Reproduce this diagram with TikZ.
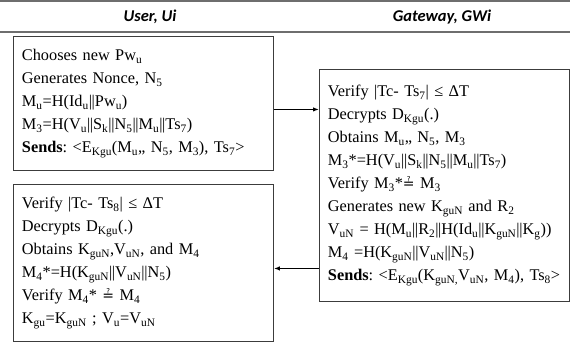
\documentclass[tikz,border=0pt]{standalone}
\usepackage{fontspec}
\setmainfont{Liberation Serif}
\newfontfamily\headfont{Carlito}
\newfontfamily\symfont{DejaVu Sans}
\usetikzlibrary{arrows.meta,positioning}
\definecolor{rule}{RGB}{110,110,110}
\definecolor{frame}{RGB}{60,60,60}
\newcommand{\sbs}[1]{\textsubscript{#1}}
\newcommand{\cat}{|\kern-0.4pt|}
\newcommand{\chk}{{\symfont\fontsize{14}{14}\selectfont ≟}}
\frenchspacing

\begin{document}
\begin{tikzpicture}[x=1pt, y=-1pt,
  head/.style={font=\headfont\fontsize{16.5}{18}\selectfont\bfseries\itshape},
  msgbox/.style={draw=frame, line width=0.9pt, anchor=north west, align=left,
                 inner xsep=8.5pt, inner ysep=6pt,
                 font=\fontsize{16.3}{23}\selectfont},
  flow/.style={-{Latex[length=6pt,width=4.5pt]}, line width=1.2pt},
]
\useasboundingbox (0,0) rectangle (570,352);
% header rules
\draw[rule, line width=2pt] (0,1) -- (570,1);
\draw[rule, line width=1.3pt] (0,32) -- (570,32);
\node[head] (user) at (150,17) {User, Ui};
\node[head] (gw) at (442,17) {Gateway, GWi};

% user side
\node[msgbox, text width=243pt, minimum height=134pt] (ubox1) at (13,36) {%
  Chooses new Pw\sbs{u}\\
  Generates Nonce, N\sbs{5}\\
  M\sbs{u}=H(Id\sbs{u}\cat Pw\sbs{u})\\
  M\sbs{3}=H(V\sbs{u}\cat S\sbs{k}\cat N\sbs{5}\cat M\sbs{u}\cat Ts\sbs{7})\\
  \mbox{\textbf{Sends}: <E\sbs{Kgu}(M\sbs{u},, N\sbs{5}, M\sbs{3}), Ts\sbs{7}>}};
\node[msgbox, text width=243pt, minimum height=157pt] (ubox2) at (13,184) {%
  Verify |Tc- Ts\sbs{8}| ≤ ΔT\\
  Decrypts D\sbs{Kgu}(.)\\
  Obtains K\sbs{guN},V\sbs{uN}, and M\sbs{4}\\
  M\sbs{4}*=H(K\sbs{guN}\cat V\sbs{uN}\cat N\sbs{5})\\
  Verify M\sbs{4}* \chk{} M\sbs{4}\\
  K\sbs{gu}=K\sbs{guN} ; V\sbs{u}=V\sbs{uN}};

% gateway side
\node[msgbox, text width=233pt, minimum height=232pt] (gbox) at (319,69) {%
  Verify |Tc- Ts\sbs{7}| ≤ ΔT\\
  Decrypts D\sbs{Kgu}(.)\\
  Obtains M\sbs{u},, N\sbs{5}, M\sbs{3}\\
  M\sbs{3}*=H(V\sbs{u}\cat S\sbs{k}\cat N\sbs{5}\cat M\sbs{u}\cat Ts\sbs{7})\\
  Verify M\sbs{3}*\chk{} M\sbs{3}\\
  Generates new K\sbs{guN} and R\sbs{2}\\
  \mbox{V\sbs{uN} = H(M\sbs{u}\cat R\sbs{2}\cat H(Id\sbs{u}\cat K\sbs{guN}\cat K\sbs{g}))}\\
  M\sbs{4} =H(K\sbs{guN}\cat V\sbs{uN}\cat N\sbs{5})\\
  \mbox{\textbf{Sends}: <E\sbs{Kgu}(K\sbs{guN,}V\sbs{uN}, M\sbs{4}), Ts\sbs{8}>}};

% messages
\draw[flow] ([yshift=-6pt]ubox1.east) -- ([yshift=-6pt]ubox1.east -| gbox.west);
\draw[flow] ([yshift=-5.5pt]ubox2.east -| gbox.west) -- ([yshift=-5.5pt]ubox2.east);
\end{tikzpicture}
\end{document}
